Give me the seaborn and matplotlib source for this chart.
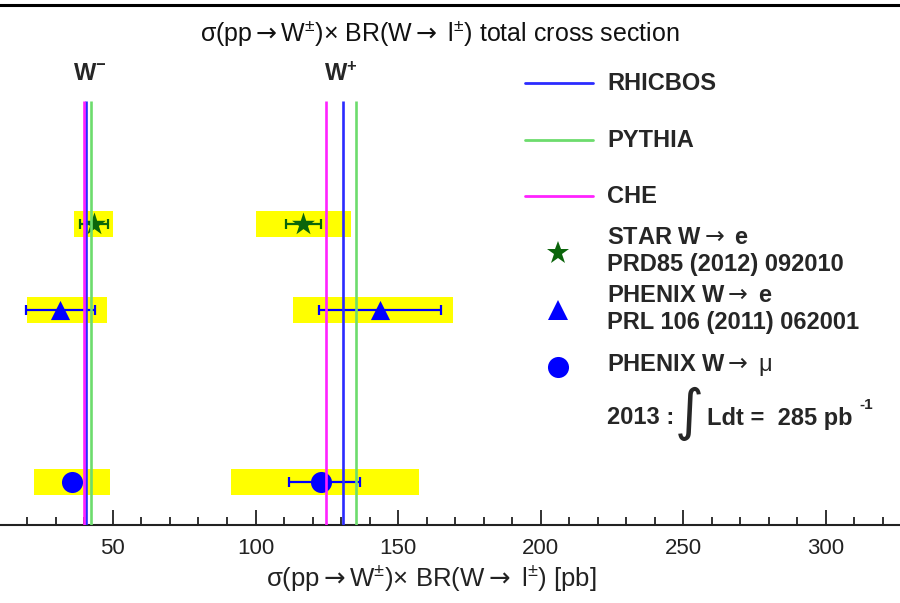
import matplotlib
matplotlib.use("Agg")
import matplotlib.pyplot as plt
import seaborn as sns
import pandas as pd
from matplotlib.ticker import MultipleLocator

# ---- measurements (pb) ----
datasets = ["STAR W→e", "PHENIX W→e", "PHENIX W→μ"]
row_pos = [4, 3, 1]

wm_val = [43.3, 31.6, 35.5]
wm_stat_lo = [4.8, 12.2, 2.0]
wm_stat_hi = [4.8, 12.2, 2.0]
wm_sys_lo = [36.5, 19.7, 22.3]
wm_sys_hi = [49.9, 47.8, 49.1]

wp_val = [116.8, 143.7, 122.8]
wp_stat_lo = [6.0, 21.3, 11.0]
wp_stat_hi = [6.2, 21.3, 14.0]
wp_sys_lo = [100.3, 113.2, 91.5]
wp_sys_hi = [133.5, 169.3, 157.2]

# ---- theory predictions (pb): W-, W+ ----
models = ["RHICBOS", "PYTHIA", "CHE"]
theory_wm = [40.4, 42.3, 39.7]
theory_wp = [130.8, 135.2, 124.6]

tick_major = 50
tick_minor = 10

model_colors = {"RHICBOS": "#2b2bff", "PYTHIA": "#6ddc6d", "CHE": "#ff22ff"}
marker_style = {"STAR W→e": ("*", "#0b650b", 300),
                "PHENIX W→e": ("^", "#0000ff", 190),
                "PHENIX W→μ": ("o", "#0000ff", 230)}

sns.set_theme(style="white")
plt.rcParams["font.family"] = ["Liberation Sans", "DejaVu Sans"]
plt.rcParams["mathtext.fontset"] = "custom"
plt.rcParams["mathtext.rm"] = "Liberation Sans"
plt.rcParams["mathtext.bf"] = "Liberation Sans:bold"
plt.rcParams["mathtext.it"] = "Liberation Sans:italic"
plt.rcParams["mathtext.sf"] = "DejaVu Sans"

W, H = 900, 603
fig = plt.figure(figsize=(9, 6.03), dpi=100)
ax = fig.add_axes([0, (H - 525) / H, 1, (525 - 5) / H])


def P(x, y):
    return x / W, 1 - y / H


ARW = r"$\mathsf{\rightarrow}$"

df = pd.DataFrame({
    "dataset": datasets * 2,
    "y": row_pos * 2,
    "value": wm_val + wp_val,
    "elo": wm_stat_lo + wp_stat_lo,
    "ehi": wm_stat_hi + wp_stat_hi,
    "slo": wm_sys_lo + wp_sys_lo,
    "shi": wm_sys_hi + wp_sys_hi,
})

# systematic bands
ax.barh(df["y"], df["shi"] - df["slo"], left=df["slo"], height=0.3,
        color="#ffff00", edgecolor="none", zorder=1)

# statistical error bars and points
for name, sub in df.groupby("dataset", sort=False):
    mk, col, sz = marker_style[name]
    ax.errorbar(sub["value"], sub["y"], xerr=[sub["elo"], sub["ehi"]],
                fmt="none", ecolor=col, elinewidth=1.6, capsize=3.5,
                capthick=1.6, zorder=2)
    sns.scatterplot(data=sub, x="value", y="y", marker=mk, color=col,
                    s=sz, edgecolor=col, linewidth=0, ax=ax, zorder=3,
                    legend=False)

# theory lines
for m, a, b in zip(models, theory_wm, theory_wp):
    for v in (a, b):
        ax.plot([v, v], [0.5, 5.43], color=model_colors[m], lw=1.9,
                zorder=4, solid_capstyle="butt")

ax.set_xlim(10.4, 326.0)
ax.set_ylim(0.5, 6.55)
ax.set_yticks([])
ax.set_ylabel("")
for s in ("left", "right"):
    ax.spines[s].set_visible(False)
ax.spines["bottom"].set_linewidth(1.5)
ax.spines["top"].set_linewidth(2.2)
ax.spines["bottom"].set_color("#222222")
ax.spines["top"].set_color("black")
ax.xaxis.set_major_locator(MultipleLocator(tick_major))
ax.xaxis.set_minor_locator(MultipleLocator(tick_minor))
ax.tick_params(axis="x", which="major", direction="in", length=11,
               width=1.3, labelsize=16, pad=9, colors="#222222",
               labelcolor="#222222", bottom=True, top=False)
ax.tick_params(axis="x", which="minor", direction="in", length=5.5,
               width=1.3, bottom=True, top=False, colors="#222222")
ax.set_xlabel(r"σ(pp" + ARW + r"W$^{\pm}$)× BR(W" + ARW + r" l$^{\pm}$) [pb]",
              fontsize=18.5, color="#222222")
ax.xaxis.set_label_coords(431 / W, -(563 - 525) / 520)

# title
fig.text(*P(440, 33),
         r"σ(pp" + ARW + r"W$^{\pm}$)× BR(W" + ARW + r" l$^{\pm}$) total cross section",
         fontsize=18, ha="center", va="center", color="#111111")

# charge labels
fig.text(*P(90, 74), r"$\mathbf{W}^{\mathbf{-}}$", fontsize=17,
         ha="center", va="center")
fig.text(*P(341, 74), r"$\mathbf{W}^{\mathbf{+}}$", fontsize=17,
         ha="center", va="center")

# legend
legend_y = [83, 140, 196]
for m, yy in zip(models, legend_y):
    fig.lines.append(plt.Line2D([525 / W, 593 / W], [1 - yy / H] * 2,
                                transform=fig.transFigure,
                                color=model_colors[m], lw=2))
    fig.text(*P(607, yy), m, fontsize=17, fontweight="bold",
             ha="left", va="center")

for name, yy in zip(datasets, [253, 310, 367]):
    mk, col, sz = marker_style[name]
    fig.lines.append(plt.Line2D([558 / W], [1 - yy / H], marker=mk,
                                transform=fig.transFigure, color=col,
                                markersize=(sz ** 0.5) * 1.0, ls="none",
                                markeredgewidth=0))

legend_text = [
    (238, "STAR W" + ARW + " e"),
    (265, "PRD85 (2012) 092010"),
    (295, "PHENIX W" + ARW + " e"),
    (322, "PRL 106 (2011) 062001"),
    (365, "PHENIX W" + ARW + r" $\mathrm{\mu}$"),
]
for yy, t in legend_text:
    fig.text(*P(607, yy), t, fontsize=17, fontweight="bold",
             ha="left", va="center")

fig.text(*P(607, 418), "2013 :", fontsize=17, fontweight="bold",
         ha="left", va="center")
fig.text(*P(689, 414), "∫", fontsize=40, ha="center", va="center",
         family=["DejaVu Sans"])
fig.text(*P(707, 418), "Ldt =  285 pb", fontsize=17, fontweight="bold",
         ha="left", va="center")
fig.text(*P(866, 405), "-1", fontsize=11, fontweight="bold",
         ha="center", va="center")

fig.savefig("out.png", dpi=100)
